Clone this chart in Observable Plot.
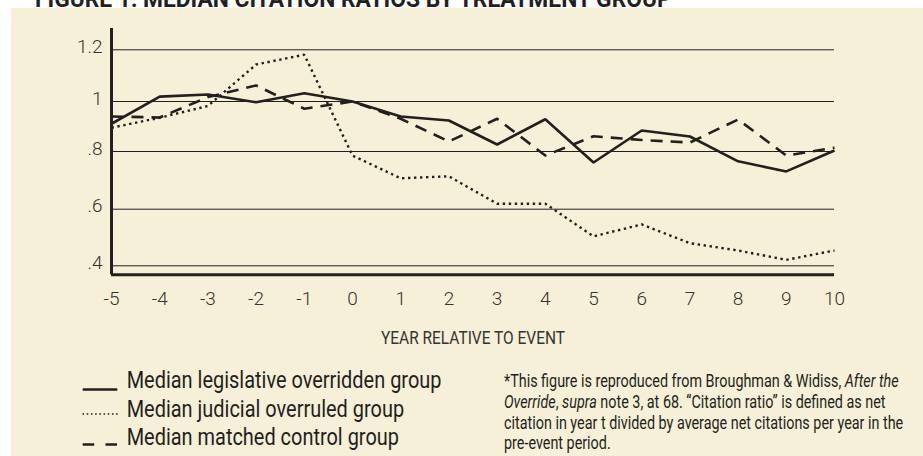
<!DOCTYPE html>
<html>
<head>
<meta charset="utf-8">
<script src="https://cdn.jsdelivr.net/npm/d3@7"></script>
<script src="https://cdn.jsdelivr.net/npm/@observablehq/plot@0.6"></script>
<style>
  html, body { margin:0; padding:0; background:#ffffff; }
  #wrap { position:relative; width:923px; height:456px; overflow:hidden; background:#ffffff; }
  #panel { position:absolute; left:11px; top:8px; right:0; bottom:0; background:#f6f0d8; }
  #wrap svg { position:absolute; left:0; top:0; }
</style>
</head>
<body>
<div id="wrap"><div id="panel"></div></div>
<script>
// ---- data ----
const years = [-5, -4, -3, -2, -1, 0, 1, 2, 3, 4, 5, 6, 7, 8, 9, 10];
const legislative = [0.911, 1.019, 1.027, 0.997, 1.032, 1.0, 0.94, 0.924, 0.828, 0.929, 0.762, 0.884, 0.86, 0.766, 0.731, 0.804];
const judicial    = [0.895, 0.935, 0.982, 1.143, 1.181, 0.786, 0.707, 0.714, 0.619, 0.619, 0.504, 0.546, 0.48, 0.454, 0.421, 0.454];
const control     = [0.94, 0.936, 1.017, 1.062, 0.971, 1.0, 0.931, 0.84, 0.931, 0.786, 0.861, 0.846, 0.836, 0.928, 0.786, 0.815];
const seriesNames = ["Median legislative overridden group", "Median judicial overruled group", "Median matched control group"];
const yTicks = [0.4, 0.6, 0.8, 1, 1.2];
const yTickLabels = [".4", ".6", ".8", "1", "1.2"];
const xTicks = years;
const titleText = "FIGURE 1: MEDIAN CITATION RATIOS BY TREATMENT GROUP";
const xTitle = "YEAR RELATIVE TO EVENT";
const noteLines = [
  [["*This figure is reproduced from Broughman & Widiss, ", false], ["After the", true]],
  [["Override", true], [", ", false], ["supra", true], [" note 3, at 68. \u201CCitation ratio\u201D is defined as net", false]],
  [["citation in year t divided by average net citations per year in the", false]],
  [["pre-event period.", false]]
];

// ---- chart ----
const FONT = "Roboto, 'Open Sans', 'DejaVu Sans', sans-serif";
const ink = "#231f20";
const wrap = document.getElementById("wrap");
const yBottom = 0.368, yTop = 1.282;

const chart = Plot.plot({
  width: 923,
  height: 360,
  marginLeft: 111,
  marginRight: 89,
  marginTop: 28,
  marginBottom: 85.7,
  style: {background: "transparent", overflow: "visible", fontFamily: FONT},
  x: {type: "linear", domain: [-5, 10]},
  y: {type: "linear", domain: [yBottom, 0.4, 0.6, 0.8, 1, 1.2, yTop], range: [274.3, 265.3, 208.7, 151, 101, 49.3, 28]},
  marks: [
    Plot.gridY(yTicks, {stroke: ink, strokeOpacity: 1, strokeWidth: 1}),
    Plot.axisY(yTicks, {tickSize: 0, tickPadding: 9, tickFormat: d => yTickLabels[yTicks.indexOf(d)], fontSize: 19, fontWeight: 300, fill: "#333", dy: -3, label: null}),
    Plot.axisX(xTicks, {tickSize: 0, tickPadding: 17, tickFormat: d => String(d), fontSize: 19, fontWeight: 300, fill: "#333", label: null}),
    Plot.line(years, {x: d => d, y: (d, i) => control[i], stroke: ink, strokeWidth: 2.6, strokeDasharray: "12,8", strokeLinecap: "butt", strokeLinejoin: "miter"}),
    Plot.line(years, {x: d => d, y: (d, i) => judicial[i], stroke: ink, strokeWidth: 2.4, strokeDasharray: "2.4,3.6", strokeLinecap: "butt", strokeLinejoin: "miter"}),
    Plot.line(years, {x: d => d, y: (d, i) => legislative[i], stroke: ink, strokeWidth: 2.6, strokeLinecap: "butt", strokeLinejoin: "miter"}),
    Plot.ruleX([-5], {y1: yBottom, y2: yTop, stroke: ink, strokeWidth: 3}),
    Plot.ruleY([yBottom], {x1: -5, x2: 10, stroke: ink, strokeWidth: 3}),
    Plot.text([xTitle], {text: d => d, frameAnchor: "bottom", dy: 69, fontSize: 18.7, fill: "#333"})
  ]
});
wrap.appendChild(chart);

// fit axis title width
d3.select(chart).selectAll("text").filter(function() { return this.textContent === xTitle; })
  .attr("textLength", 184).attr("lengthAdjust", "spacingAndGlyphs");

// ---- overlay: title, legend, footnote ----
const ov = d3.select(wrap).append("svg").attr("width", 923).attr("height", 456)
  .style("font-family", FONT).style("pointer-events", "none");

function condense(g, node, target, x) {
  const w = node.getComputedTextLength();
  g.attr("transform", `translate(${x},0) scale(${target / w},1)`);
}

// title
const tg = ov.append("g");
const tt = tg.append("text").attr("x", 0).attr("y", 7).attr("font-size", 23).attr("font-weight", 700).attr("fill", ink).text(titleText);
condense(tg, tt.node(), 637, 35);

// legend
const legendY = [388, 417, 445];
const lg = ov.append("g");
const legTexts = seriesNames.map((name, i) =>
  lg.append("text").attr("x", 0).attr("y", legendY[i]).attr("font-size", 23.5).attr("fill", ink).text(name));
condense(lg, legTexts[0].node(), 315, 126.7);

ov.append("line").attr("x1", 82.7).attr("x2", 117.3).attr("y1", 389.5).attr("y2", 389.5)
  .attr("stroke", ink).attr("stroke-width", 2.6);
ov.append("line").attr("x1", 82.5).attr("x2", 118).attr("y1", 414).attr("y2", 414)
  .attr("stroke", ink).attr("stroke-width", 1.6).attr("stroke-dasharray", "1.6,2.6");
ov.append("line").attr("x1", 82.7).attr("x2", 117.3).attr("y1", 444.5).attr("y2", 444.5)
  .attr("stroke", ink).attr("stroke-width", 2.4).attr("stroke-dasharray", "11.5,11.3");

// footnote
const fg = ov.append("g");
const noteY = [387.3, 408, 428.7, 449.3];
const noteTexts = noteLines.map((parts, i) => {
  const t = fg.append("text").attr("x", 0).attr("y", noteY[i]).attr("font-size", 18.5).attr("fill", ink);
  parts.forEach(([s, it]) => t.append("tspan").attr("font-style", it ? "italic" : "normal").text(s));
  return t;
});
condense(fg, noteTexts[0].node(), 395, 504);
</script>
</body>
</html>
